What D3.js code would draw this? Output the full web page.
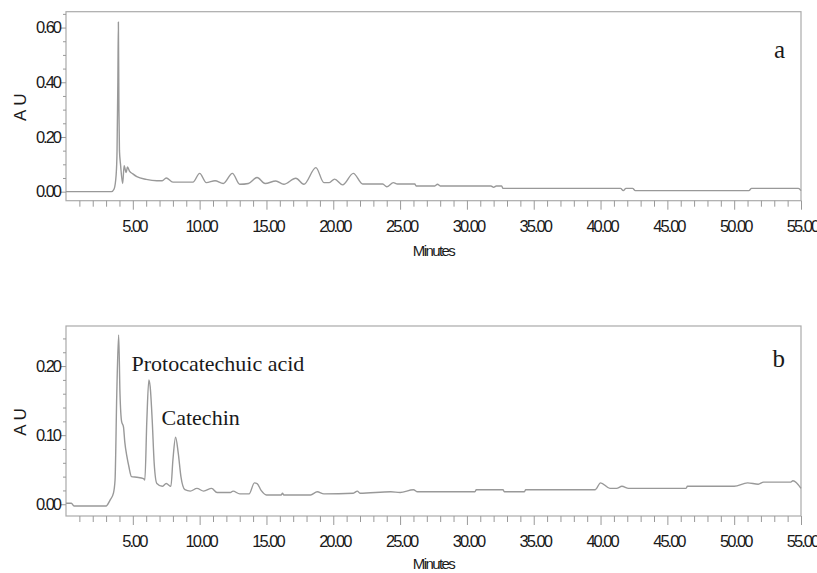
<!DOCTYPE html>
<html>
<head>
<meta charset="utf-8">
<script src="https://cdn.jsdelivr.net/npm/d3@7"></script>
<style>
  body { margin: 0; background: #fff; }
  svg { display: block; }
  .tk text { font-family: "Liberation Sans", Arial, sans-serif; font-size: 16.5px; letter-spacing: -2px; fill: #1a1a1a; }
  .tk path { display: none; }
  .tk line { stroke: #999; }
</style>
</head>
<body>
<svg width="817" height="573"></svg>
<script>
// chromatogram a (minutes, AU)
var timeA = [0, 3.4, 3.6, 3.75, 3.82, 3.88, 3.92, 3.96, 4.0, 4.08, 4.24, 4.35, 4.5, 4.6, 4.75, 5.0, 5.3, 6.0, 6.8, 7.2, 7.5, 8.0, 9.5,
  10.0, 10.5, 11.15, 11.77, 12.45, 13.0, 13.65, 14.3, 14.9, 15.7, 16.3, 17.2, 17.8, 18.7, 19.3, 19.7, 20.1, 20.7, 21.5, 22.2,
  23.7, 24.0, 24.5, 24.8, 26.1, 26.2, 27.6, 27.8, 28.0, 31.8, 32.0, 32.2, 32.6, 32.7, 41.5, 41.7, 41.9, 42.2, 42.4, 42.6,
  51.1, 51.3, 54.8, 55];
var auA = [0, 0, 0.01, 0.06, 0.15, 0.4, 0.62, 0.3, 0.15, 0.1, 0.03, 0.095, 0.07, 0.09, 0.075, 0.065, 0.055, 0.045, 0.04, 0.04, 0.05, 0.035, 0.035,
  0.067, 0.033, 0.04, 0.03, 0.067, 0.027, 0.03, 0.052, 0.03, 0.039, 0.027, 0.049, 0.027, 0.088, 0.033, 0.033, 0.046, 0.025, 0.067, 0.028,
  0.028, 0.018, 0.033, 0.028, 0.028, 0.021, 0.021, 0.027, 0.021, 0.021, 0.016, 0.021, 0.021, 0.012, 0.012, 0.004, 0.012, 0.012, 0.012, 0.004,
  0.004, 0.012, 0.012, 0.004];

// chromatogram b (minutes, AU)
var timeB = [0, 0.4, 0.6, 3.0, 3.3, 3.55, 3.67, 3.8, 3.94, 4.04, 4.16, 4.3, 4.4, 4.55, 4.7, 4.9, 5.3, 5.8, 5.9, 6.05, 6.2, 6.3, 6.45, 6.6,
  6.8, 7.2, 7.5, 7.85, 8.0, 8.2, 8.4, 8.6, 8.9, 9.3, 9.8, 10.3, 10.9, 11.3, 12.3, 12.5, 13.0, 13.7, 14.1, 14.3, 14.6, 15.0, 16.1,
  16.2, 16.3, 18.3, 18.8, 19.3, 21.5, 21.8, 22.0, 24.3, 25.0, 26.0, 26.3, 30.6, 30.7, 32.7, 32.8, 34.3, 34.4, 39.6, 40.0, 40.7,
  41.2, 41.6, 42.1, 46.4, 46.5, 50.0, 51.0, 51.8, 52.2, 54.2, 54.4, 55];
var auB = [0.0015, 0.0015, -0.0025, -0.0025, 0.006, 0.016, 0.035, 0.16, 0.245, 0.16, 0.12, 0.112, 0.09, 0.07, 0.055, 0.04, 0.039, 0.037, 0.035, 0.122, 0.18, 0.17, 0.122, 0.059,
  0.03, 0.026, 0.03, 0.026, 0.064, 0.097, 0.074, 0.04, 0.021, 0.019, 0.023, 0.019, 0.023, 0.017, 0.017, 0.019, 0.015, 0.015, 0.031, 0.03, 0.02, 0.0135, 0.0135,
  0.016, 0.0135, 0.0135, 0.018, 0.015, 0.016, 0.019, 0.016, 0.018, 0.017, 0.021, 0.018, 0.018, 0.021, 0.021, 0.018, 0.018, 0.021, 0.021, 0.031, 0.023,
  0.023, 0.026, 0.023, 0.023, 0.026, 0.026, 0.031, 0.029, 0.032, 0.032, 0.034, 0.023];

var xMajor = [5, 10, 15, 20, 25, 30, 35, 40, 45, 50, 55];
var yMajorA = [0, 0.2, 0.4, 0.6];
var yMajorB = [0, 0.1, 0.2];
var peakNames = ["Protocatechuic acid", "Catechin"];

var svg = d3.select("svg");
var left = 66, right = 801;

var x = d3.scaleLinear().domain([0, 55]).range([left, right]);

var panels = [
  { t: timeA, v: auA, top: 11.7, bottom: 200.7, dom: [-0.033, 0.658], major: yMajorA, step: 0.05, tag: "a", titleY: 55 },
  { t: timeB, v: auB, top: 326, bottom: 516, dom: [-0.017, 0.258], major: yMajorB, step: 0.02, tag: "b", titleY: 53 }
];

var xMinor = d3.range(1, 55).filter(function (d) { return d % 5 !== 0; });

panels.forEach(function (p, i) {
  var y = d3.scaleLinear().domain(p.dom).range([p.bottom, p.top]);
  p.y = y;

  // frame
  svg.append("rect")
    .attr("x", left).attr("y", p.top)
    .attr("width", right - left).attr("height", p.bottom - p.top)
    .attr("fill", "none").attr("stroke", "#aaa").attr("stroke-width", 1.2);

  // x ticks
  svg.append("g").attr("class", "tk")
    .attr("transform", "translate(0," + p.bottom + ")")
    .call(d3.axisBottom(x).tickValues(xMinor).tickSize(6).tickFormat(""));
  var gx = svg.append("g").attr("class", "tk")
    .attr("transform", "translate(0," + p.bottom + ")")
    .call(d3.axisBottom(x).tickValues(xMajor).tickSize(9).tickFormat(d3.format(".2f")));
  gx.selectAll("text").attr("y", 31).attr("dy", null).attr("dx", "1px");

  // y ticks
  var minor = d3.range(p.step, p.dom[1], p.step).filter(function (d) {
    return !p.major.some(function (m) { return Math.abs(m - d) < 1e-6; });
  });
  svg.append("g").attr("class", "tk")
    .attr("transform", "translate(" + left + ",0)")
    .call(d3.axisLeft(y).tickValues(minor).tickSize(3).tickFormat(""));
  svg.append("g").attr("class", "tk")
    .attr("transform", "translate(" + left + ",0)")
    .call(d3.axisLeft(y).tickValues(p.major).tickSize(5).tickPadding(1).tickFormat(d3.format(".2f")));

  // axis titles
  svg.append("text")
    .attr("transform", "translate(26," + ((p.top + p.bottom) / 2 + 1) + ") rotate(-90)")
    .attr("text-anchor", "middle")
    .style("font-family", "Liberation Sans, Arial, sans-serif")
    .style("font-size", "17px").style("fill", "#1a1a1a")
    .text("A U");
  svg.append("text")
    .attr("x", (left + right) / 2).attr("y", p.bottom + p.titleY)
    .attr("text-anchor", "middle")
    .style("font-family", "Liberation Sans, Arial, sans-serif")
    .style("font-size", "15px").style("letter-spacing", "-1.6px").style("fill", "#1a1a1a")
    .text("Minutes");

  // trace
  var pts = p.t.map(function (d, k) { return [d, p.v[k]]; });
  svg.append("path")
    .datum(pts)
    .attr("fill", "none")
    .attr("stroke", "#999")
    .attr("stroke-width", 1.4)
    .attr("d", d3.line()
      .curve(d3.curveMonotoneX)
      .x(function (d) { return x(d[0]); })
      .y(function (d) { return y(d[1]); }));

  // panel letter
  svg.append("text")
    .attr("x", right - 16).attr("y", p.top + (i === 0 ? 46 : 41))
    .attr("text-anchor", "end")
    .style("font-family", "Liberation Serif, Times New Roman, serif")
    .style("font-size", "25px").style("fill", "#1a1a1a")
    .text(p.tag);
});

// peak annotations on b
var yb = panels[1].y;
svg.append("text")
  .attr("x", x(4.9)).attr("y", yb(0.193))
  .style("font-family", "Liberation Serif, Times New Roman, serif")
  .style("font-size", "22px").style("fill", "#1a1a1a")
  .text(peakNames[0]);
svg.append("text")
  .attr("x", x(7.15)).attr("y", yb(0.114))
  .style("font-family", "Liberation Serif, Times New Roman, serif")
  .style("font-size", "22px").style("fill", "#1a1a1a")
  .text(peakNames[1]);
</script>
</body>
</html>
